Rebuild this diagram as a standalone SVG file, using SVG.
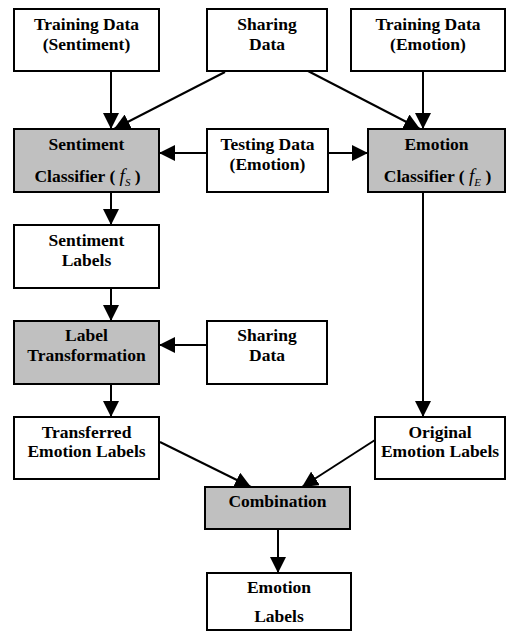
<svg xmlns="http://www.w3.org/2000/svg" width="506" height="631" viewBox="0 0 506 631">
<style>
.box{fill:#fff;stroke:#000;stroke-width:2}
.g{fill:#c0c0c0}
text{font-family:"Liberation Serif","Times New Roman",serif;font-weight:bold;font-size:17.5px;text-anchor:middle;fill:#000}
.it{font-style:italic;font-weight:normal}
.con line{stroke:#000;stroke-width:2;marker-end:url(#ah)}
</style>
<defs>
<marker id="ah" viewBox="0 0 16 16" refX="16" refY="8" markerWidth="16" markerHeight="16" markerUnits="userSpaceOnUse" orient="auto">
<path d="M0,0 L16,8 L0,16 z" fill="#000"/>
</marker>
</defs>
<rect width="506" height="631" fill="#fff"/>
<g class="con">
<line x1="111" y1="71" x2="111" y2="129"/>
<line x1="225" y1="72" x2="114" y2="129"/>
<line x1="308" y1="71" x2="420" y2="129"/>
<line x1="423" y1="71" x2="423" y2="129"/>
<line x1="207" y1="153" x2="159" y2="153"/>
<line x1="328" y1="153" x2="368" y2="153"/>
<line x1="111" y1="192" x2="111" y2="225"/>
<line x1="111" y1="288" x2="111" y2="321"/>
<line x1="207" y1="345" x2="159" y2="345"/>
<line x1="111" y1="384" x2="111" y2="417"/>
<line x1="423" y1="192" x2="423" y2="417"/>
<line x1="160" y1="442" x2="251" y2="487"/>
<line x1="375" y1="440" x2="302" y2="487"/>
<line x1="278" y1="529" x2="278" y2="573"/>
</g>
<g id="train-sent"><rect class="box" x="14" y="9" width="145" height="62"/><text x="86.5" y="30">Training Data</text><text x="86.5" y="50">(Sentiment)</text></g>
<g id="sharing1"><rect class="box" x="207" y="9" width="120" height="62"/><text x="267" y="30">Sharing</text><text x="267" y="50">Data</text></g>
<g id="train-emo"><rect class="box" x="351" y="9" width="154" height="62"/><text x="428" y="30">Training Data</text><text x="428" y="50">(Emotion)</text></g>
<g id="sent-clf"><rect class="box g" x="14" y="129" width="145" height="63"/><text x="86.5" y="150">Sentiment</text><text x="87.5" y="182">Classifier (  <tspan class="it" font-size="19">f</tspan><tspan class="it" font-size="11" dy="4">S</tspan><tspan dy="-4">  )</tspan></text></g>
<g id="testing"><rect class="box" x="207" y="129" width="121" height="63"/><text x="267.5" y="150">Testing Data</text><text x="267.5" y="170">(Emotion)</text></g>
<g id="emo-clf"><rect class="box g" x="368" y="129" width="137" height="63"/><text x="436.5" y="150">Emotion</text><text x="437.5" y="182">Classifier (  <tspan class="it" font-size="19">f</tspan><tspan class="it" font-size="11" dy="4">E</tspan><tspan dy="-4">  )</tspan></text></g>
<g id="sent-labels"><rect class="box" x="14" y="225" width="145" height="63"/><text x="86.5" y="246">Sentiment</text><text x="86.5" y="266">Labels</text></g>
<g id="label-trans"><rect class="box g" x="14" y="321" width="145" height="63"/><text x="86.5" y="341">Label</text><text x="86.5" y="361">Transformation</text></g>
<g id="sharing2"><rect class="box" x="207" y="321" width="120" height="63"/><text x="267" y="341">Sharing</text><text x="267" y="361">Data</text></g>
<g id="transferred"><rect class="box" x="14" y="417" width="145" height="62"/><text x="86.5" y="438">Transferred</text><text x="86.5" y="457">Emotion Labels</text></g>
<g id="original"><rect class="box" x="375" y="417" width="130" height="62"/><text x="440" y="438">Original</text><text x="440" y="457">Emotion Labels</text></g>
<g id="combination"><rect class="box g" x="205" y="487" width="145" height="42"/><text x="277.5" y="507">Combination</text></g>
<g id="emo-labels"><rect class="box" x="207" y="573" width="144" height="57"/><text x="279" y="593">Emotion</text><text x="279" y="622">Labels</text></g>
</svg>
